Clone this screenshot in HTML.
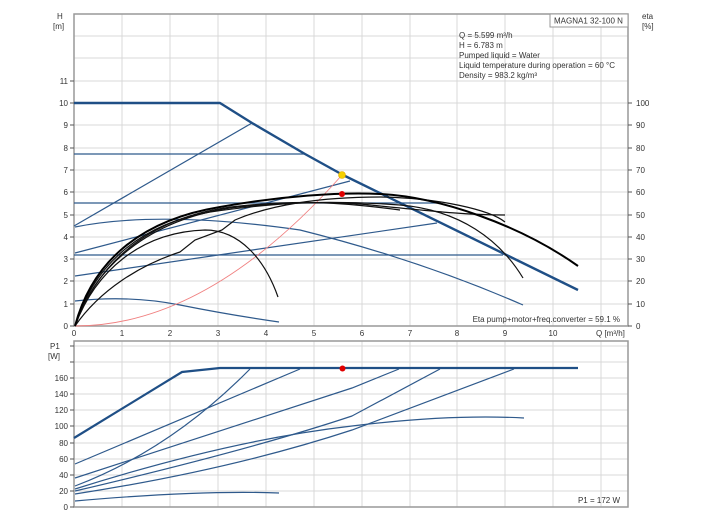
<!DOCTYPE html>
<html><head><meta charset="utf-8"><style>
html,body{margin:0;padding:0;background:#fff;}
svg{display:block;font-family:"Liberation Sans",sans-serif;}
</style></head><body>
<svg width="704" height="528" viewBox="0 0 704 528" xmlns="http://www.w3.org/2000/svg">
<g stroke="#d8d8d8" stroke-width="1" fill="none">
<path d="M122,14V326M170,14V326M218,14V326M266,14V326M314,14V326M362,14V326M410,14V326M457,14V326M505,14V326M553,14V326M601,14V326"/>
<path d="M74,36H628M74,58H628M74,81H628M74,103H628M74,125H628M74,148H628M74,170H628M74,192H628M74,215H628M74,237H628M74,259H628M74,281H628M74,304H628"/>
<path d="M122,341V507M170,341V507M218,341V507M266,341V507M314,341V507M362,341V507M410,341V507M457,341V507M505,341V507M553,341V507M601,341V507"/>
<path d="M74,491H628M74,475H628M74,459H628M74,443H628M74,426H628M74,410H628M74,394H628M74,378H628M74,362H628M74,346H628"/>
</g>
<g stroke="#999" stroke-width="1.5" fill="none">
<rect x="74" y="14" width="554" height="312"/>
<rect x="74" y="341" width="554" height="166"/>
</g>
<g stroke="#555" stroke-width="1">
<path d="M70,81H74M70,103H74M70,125H74M70,148H74M70,170H74M70,192H74M70,215H74M70,237H74M70,259H74M70,281H74M70,304H74M70,326H74"/>
<path d="M628,103H632M628,125H632M628,148H632M628,170H632M628,192H632M628,215H632M628,237H632M628,259H632M628,281H632M628,304H632M628,326H632"/>
<path d="M70,507H74M70,491H74M70,475H74M70,459H74M70,443H74M70,426H74M70,410H74M70,394H74M70,378H74M70,362H74M70,346H74"/>
</g>
<g font-size="8" fill="#333">
<text x="57" y="19">H</text><text x="53" y="29">[m]</text>
<text x="642" y="19">eta</text><text x="642" y="29">[%]</text>
<g text-anchor="end">
<text x="68" y="84">11</text><text x="68" y="106">10</text><text x="68" y="128">9</text><text x="68" y="151">8</text><text x="68" y="173">7</text><text x="68" y="195">6</text><text x="68" y="218">5</text><text x="68" y="240">4</text><text x="68" y="262">3</text><text x="68" y="284">2</text><text x="68" y="307">1</text><text x="68" y="329">0</text>
<text x="68" y="510">0</text><text x="68" y="494">20</text><text x="68" y="478">40</text><text x="68" y="462">60</text><text x="68" y="446">80</text><text x="68" y="429">100</text><text x="68" y="413">120</text><text x="68" y="397">140</text><text x="68" y="381">160</text>
<text x="620" y="322">Eta pump+motor+freq.converter = 59.1 %</text>
<text x="620" y="503">P1 = 172 W</text>
</g>
<text x="636" y="106">100</text><text x="636" y="128">90</text><text x="636" y="151">80</text><text x="636" y="173">70</text><text x="636" y="195">60</text><text x="636" y="218">50</text><text x="636" y="240">40</text><text x="636" y="262">30</text><text x="636" y="284">20</text><text x="636" y="307">10</text><text x="636" y="329">0</text>
<g text-anchor="middle">
<text x="74" y="336">0</text><text x="122" y="336">1</text><text x="170" y="336">2</text><text x="218" y="336">3</text><text x="266" y="336">4</text><text x="314" y="336">5</text><text x="362" y="336">6</text><text x="410" y="336">7</text><text x="457" y="336">8</text><text x="505" y="336">9</text><text x="553" y="336">10</text>
</g>
<text x="596" y="336">Q [m³/h]</text>
<text x="50" y="349">P1</text><text x="48" y="359">[W]</text>
<text x="459" y="38">Q = 5.599 m³/h</text>
<text x="459" y="48">H = 6.783 m</text>
<text x="459" y="58">Pumped liquid = Water</text>
<text x="459" y="68">Liquid temperature during operation = 60 °C</text>
<text x="459" y="78">Density = 983.2 kg/m³</text>
</g>
<rect x="550" y="14" width="78" height="13" fill="#fff" stroke="#999" stroke-width="1"/>
<text x="554" y="23.5" font-size="8" fill="#333">MAGNA1 32-100 N</text>
<!-- upper blue -->
<g stroke="#2f5a8c" fill="none" stroke-width="1.2">
<path d="M74,154H305M74,203H437M74,255H503"/>
<path d="M74,226L252,123M75,253L350,181M75,276L437,223"/>
<path d="M75,227Q160,210 300,230Q420,260 523,305"/>
<path d="M75,301Q130,295 180,305Q230,315 279,322"/>
</g>
<path d="M74,103H220L252,123L305,154L343,175L578,290" stroke="#1f4f86" stroke-width="2.4" fill="none" stroke-linejoin="round"/>
<!-- red line -->
<path d="M75,326Q208,326 342,175" stroke="#f08080" stroke-width="0.9" fill="none"/>
<!-- black curves -->
<g stroke="#111" fill="none" stroke-width="1.2">
<path d="M75,326C95,272 140,232 205,230C240,230 265,260 278,297"/>
<path d="M75,326C100,290 140,265 180,252L195,240L222,230L235,220C270,205 320,197 380,197C440,198 490,210 505,222"/>
<path d="M75,326C95,265 150,220 230,208C300,200 360,202 400,205C460,210 500,240 523,278"/>
<path d="M75,326C92,270 135,225 210,212C280,202 330,200 380,206C440,212 470,215 505,215"/>
<path d="M75,326C98,262 150,215 240,206C300,200 340,202 400,210"/>
</g>
<path d="M75,326C92,262 140,220 220,207C280,196 340,192 380,194C440,197 520,225 578,266" stroke="#000" stroke-width="2" fill="none"/>
<circle cx="342" cy="175" r="3.5" fill="#f5d000" stroke="#e0a800" stroke-width="0.6"/>
<circle cx="342" cy="194" r="3" fill="#e00000"/>
<!-- lower -->
<g stroke="#2f5a8c" fill="none" stroke-width="1.2">
<path d="M75,464L300,369"/>
<path d="M75,486Q170,450 250,369"/>
<path d="M75,478L352,388L399,369"/>
<path d="M75,491Q250,450 352,416L440,369"/>
<path d="M75,494Q230,470 352,430L514,369"/>
<path d="M75,489Q230,440 352,426Q450,414 524,418"/>
<path d="M75,501Q200,490 279,493"/>
</g>
<path d="M74,438L182,372L220,368H578" stroke="#1f4f86" stroke-width="2.2" fill="none"/>
<circle cx="342.5" cy="368.5" r="3" fill="#e00000"/>
</svg>
</body></html>
